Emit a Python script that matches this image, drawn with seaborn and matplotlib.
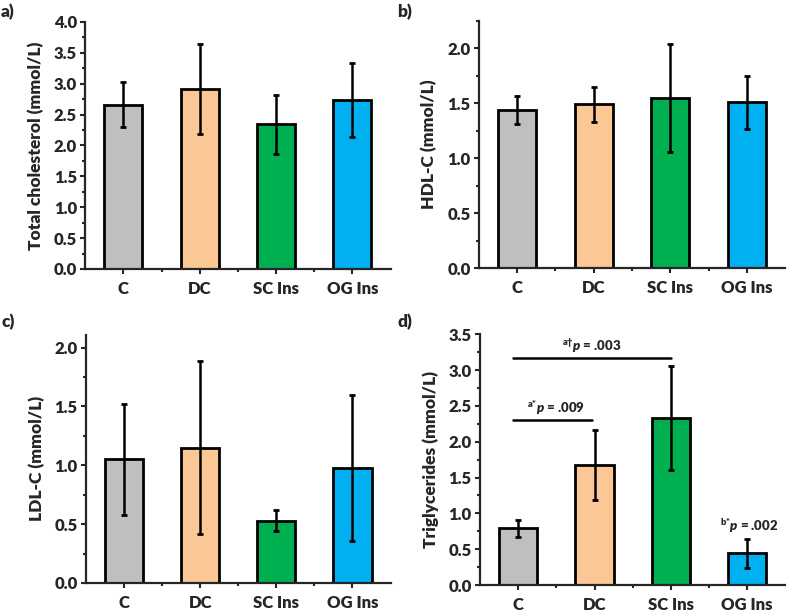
import numpy as np
import pandas as pd
import matplotlib
matplotlib.use("Agg")
import matplotlib.pyplot as plt
import seaborn as sns
from matplotlib.ticker import MultipleLocator, FixedLocator

# group names and bar colours
groups = ["C", "DC", "SC Ins", "OG Ins"]
colors = ["#BFBFBF", "#FBC895", "#00B050", "#00B0F0"]

# means and SD
total_chol = [2.66, 2.92, 2.34, 2.73]
total_chol_sd = [0.36, 0.73, 0.48, 0.60]

hdl = [1.44, 1.49, 1.55, 1.51]
hdl_sd = [0.13, 0.155, 0.49, 0.24]

ldl = [1.05, 1.15, 0.53, 0.975]
ldl_sd = [0.47, 0.735, 0.09, 0.62]

trig = [0.79, 1.67, 2.33, 0.44]
trig_sd = [0.115, 0.49, 0.73, 0.20]

sns.set_style("ticks")
plt.rcParams["font.family"] = ["Lato", "DejaVu Sans"]
plt.rcParams["font.weight"] = "heavy"
plt.rcParams["mathtext.fontset"] = "custom"
plt.rcParams["mathtext.rm"] = "Lato:heavy"
plt.rcParams["mathtext.it"] = "Lato:italic:heavy"


def bar_panel(ax, values, sd, ylabel, ymax):
    """draw one bar panel with SD error bars"""
    df = pd.DataFrame({"group": groups, "value": values})
    sns.barplot(data=df, x="group", y="value", hue="group", palette=colors,
                saturation=1, width=0.5, edgecolor="black", linewidth=2,
                legend=False, ax=ax)
    ax.errorbar(np.arange(len(groups)), values, yerr=sd, fmt="none",
                ecolor="black", elinewidth=1.8, capsize=2, capthick=2)
    ax.set_xlim(-0.5, 3.5)
    ax.set_ylim(0, ymax)
    ax.yaxis.set_major_locator(MultipleLocator(0.5))
    ax.yaxis.set_minor_locator(MultipleLocator(0.25))
    ax.xaxis.set_minor_locator(FixedLocator([0.5, 1.5, 2.5]))
    ax.set_xlabel("")
    ax.set_ylabel(ylabel, fontsize=12.5, fontweight="heavy")
    ax.yaxis.set_label_coords(-0.135, 0.5)
    ax.tick_params(axis="x", which="major", labelsize=12, length=3.5, width=1.5, pad=5)
    ax.tick_params(axis="y", which="major", labelsize=12, length=3.5, width=1.5, pad=2.5)
    ax.tick_params(which="minor", length=2, width=1.5)
    for lab in ax.get_xticklabels() + ax.get_yticklabels():
        lab.set_fontweight("heavy")
    sns.despine(ax=ax)
    for s in ["left", "bottom"]:
        ax.spines[s].set_linewidth(1.6)


fig = plt.figure(figsize=(7.89, 6.12), dpi=100)
ax_a = fig.add_axes([0.108, 0.5605, 0.387, 0.4036])
ax_b = fig.add_axes([0.607, 0.562, 0.388, 0.4036])
ax_c = fig.add_axes([0.109, 0.0474, 0.386, 0.4057])
ax_d = fig.add_axes([0.6084, 0.0441, 0.387, 0.4096])

bar_panel(ax_a, total_chol, total_chol_sd, "Total cholesterol (mmol/L)", 4.0)
bar_panel(ax_b, hdl, hdl_sd, "HDL-C (mmol/L)", 2.25)
bar_panel(ax_c, ldl, ldl_sd, "LDL-C (mmol/L)", 2.11)
bar_panel(ax_d, trig, trig_sd, "Triglycerides (mmol/L)", 3.5)

# significance brackets in panel d
ax_d.plot([-0.065, 2.0], [3.166, 3.166], color="black", lw=1.8)
ax_d.plot([-0.065, 0.965], [2.30, 2.30], color="black", lw=1.8)
ax_d.text(0.96, 3.33, r"$^{\mathrm{a†}}\mathit{p}$ = .003", ha="center", va="center",
          fontsize=9.5, fontweight="heavy")
ax_d.text(0.49, 2.47, r"$^{\mathrm{a{*}}}\mathit{p}$ = .009", ha="center", va="center",
          fontsize=9.5, fontweight="heavy")
ax_d.text(3.03, 0.82, r"$^{\mathrm{b{*}}}\mathit{p}$ = .002", ha="center", va="center",
          fontsize=9.5, fontweight="heavy")

# panel letters
for label, (x, y) in zip(["a)", "b)", "c)", "d)"],
                         [(8, 12), (405, 12), (8, 322), (405, 322)]):
    fig.text(x / 789, 1 - y / 612, label, ha="center", va="center",
             fontsize=12.5, fontweight="heavy")

fig.savefig("out.png", dpi=100)
